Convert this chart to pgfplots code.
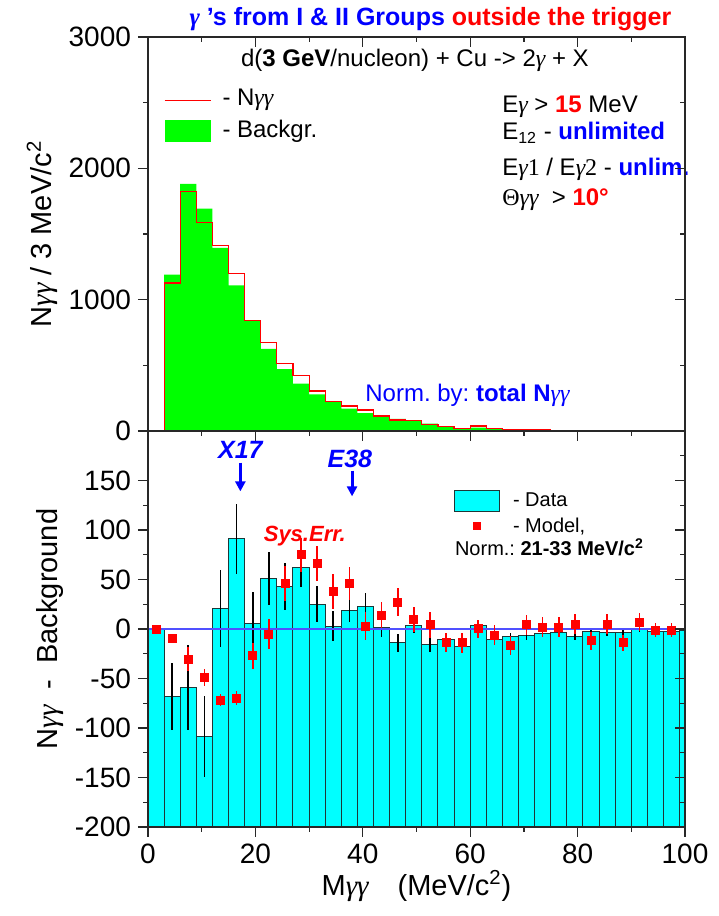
\documentclass[border=0pt]{standalone}
\usepackage{fontspec}
\setmainfont{Liberation Sans}
\newfontfamily\grk{Liberation Serif}
\usepackage{pgfplots}
\pgfplotsset{compat=1.18}
\usepackage{pgfplotstable}
\usetikzlibrary{arrows.meta}
\frenchspacing

\definecolor{hgreen}{RGB}{0,255,0}
\definecolor{hred}{RGB}{255,0,0}
\definecolor{hcyan}{RGB}{0,255,255}
\definecolor{hblue}{RGB}{0,0,255}
\definecolor{barline}{RGB}{30,55,55}
\definecolor{zline}{RGB}{80,80,255}
\definecolor{frame}{RGB}{40,40,40}

\newcommand{\gm}{{\grk\itshape γ}}
\newcommand{\fs}[1]{\fontsize{#1}{#1}\selectfont}

% upper panel: left edge of each 3 MeV/c^2 bin, N_gg and background
\pgfplotstableread{
lo   N     B
0    0     0
3    1127  1190
6    1823  1881
9    1587  1694
12   1413  1394
15   1200  1109
18   843   837
21   676   625
24   514   471
27   423   361
30   304   279
33   223   220
36   190   171
39   160   137
42   114   111
45   84    92
48   80    76
51   50    56
54   36    33
57   20    22
60   38    25
63   20    18
66   12    10
69   9     8
72   7     6
75   6     5
78   5     5
81   4     3
84   3     3
87   4     3
90   3     2
93   2     2
96   2     2
99   2     1
102  2     1
}\toptab

% lower panel: left bin edge, N_gg - background, statistical error
\pgfplotstableread{
lo   d     e
0    0     0
3    -68   34
6    -59   43
9    -109  41
12   21    39
15   91    35
18   6     31
21   51    27
24   43    24
27   62    20
30   25    18
33   3     15
36   19    12
39   23    13
42   2     10
45   -14   9
48   4     8
51   -16   7
54   -11   6
57   -18   6
60   4     5
63   -11   5
66   -8    4
69   -7    4
72   -5    3
75   -4    3
78   -8    3
81   -3    3
84   -4    3
87   -4    3
90   -1    2
93   -3    2
96   -3    2
99   -2    2
102  -2    0
}\difftab

% model: bin centre, value, systematic error
\pgfplotstableread{
c      m      e
1.5    0      0
4.5    -9     0
7.5    -30.5  12
10.5   -49    9
13.5   -72    6
16.5   -70    7
19.5   -27    13
22.5   -5     15
25.5   46     18
28.5   75     17
31.5   66     18
34.5   38     18
37.5   46     17
40.5   3      14
43.5   14     13
46.5   27     14
49.5   9.5    13
52.5   4.4    13
55.5   -13.6  10
58.5   -14    10
61.5   0.3    9
64.5   -6     10
67.5   -16.6  10
70.5   4.4    10
73.5   1.7    10
76.5   1.7    10
79.5   5      10
82.5   -12    9
85.5   5      10
88.5   -14    8
91.5   7      9
94.5   -1     7
97.5   -1     7
100.5  4      6
}\modtab

\tikzset{txt/.style={anchor=west, inner sep=0pt}}

\pgfplotsset{
  panel/.style={
    scale only axis, width=268.5pt,
    xmin=0, xmax=100,
    axis line style={frame, line width=0.8pt},
    every tick/.style={frame, line width=0.6pt},
    major tick length=5pt, minor tick length=2.5pt,
    tick label style={font=\fs{14}},
    clip mode=individual,
  },
  mirror/.style={
    panel, xtick pos=top, ytick pos=right, tick align=inside,
    xticklabels={}, yticklabels={},
  },
}

\begin{document}
\begin{tikzpicture}
\path[use as bounding box] (0,0) rectangle (359pt,458pt);

% ---------- upper panel ----------
\begin{axis}[panel, at={(74pt,242.5pt)}, anchor=south west, height=197pt,
  ymin=0, ymax=3000,
  xtick={0,20,...,100}, minor x tick num=1, xticklabels={},
  ytick={0,1000,2000,3000}, yticklabels={0,1000,2000,3000},
  minor y tick num=1,
  xtick pos=bottom, ytick pos=left, tick align=outside,
  every axis y label/.style={at={(axis description cs:-0.197,0.5)}, rotate=90,
    anchor=center, font=\fs{14.5}},
  ylabel={N\gm\gm\ / 3 MeV/c\textsuperscript{2}},
]
\addplot[ybar interval, fill=hgreen, draw=none] table[x=lo, y=B] \toptab;
\addplot[const plot, hred, line width=0.6pt] table[x=lo, y=N] \toptab;

\node[font=\fs{12.5}\bfseries] at (axis cs:52.6,3140)
  {\textcolor{hblue}{\gm\ 's from I \& II Groups} \textcolor{hred}{outside the trigger}};
\node[font=\fs{12}] at (axis cs:49.7,2825)
  {d(\textbf{3 GeV}/nucleon) + Cu -> 2\gm\ + X};

\draw[hred, line width=0.6pt] (axis cs:3.1,2518) -- (axis cs:11.7,2518);
\node[txt, font=\fs{12}] at (axis cs:13.8,2518) {- N\gm\gm};
\fill[hgreen] (axis cs:3.1,2202) rectangle (axis cs:11.7,2369);
\node[txt, font=\fs{12}] at (axis cs:13.8,2285) {- Backgr.};

\node[txt, font=\fs{12}] at (axis cs:65.9,2465)
  {E\gm\ > \textcolor{hred}{\textbf{15}} MeV};
\node[txt, font=\fs{12}] at (axis cs:65.9,2270)
  {E\textsubscript{12} - \textcolor{hblue}{\textbf{unlimited}}};
\node[txt, font=\fs{12}] at (axis cs:65.9,1990)
  {E\gm{\grk 1} / E\gm{\grk 2} - \textcolor{hblue}{\textbf{unlim.}}};
\node[txt, font=\fs{12}] at (axis cs:65.9,1760)
  {{\grk Θ}\gm\gm\ \ > \textcolor{hred}{\textbf{10°}}};

\node[txt, font=\fs{12}, text=hblue] at (axis cs:40.4,271)
  {Norm. by: \textbf{total N}\gm\gm};
\end{axis}
\begin{axis}[mirror, at={(74pt,242.5pt)}, anchor=south west, height=197pt,
  ymin=0, ymax=3000, xtick={0,20,...,100}, minor x tick num=1,
  ytick={0,1000,2000,3000}, minor y tick num=1]
\end{axis}

% ---------- lower panel ----------
\begin{axis}[panel, at={(74pt,44.5pt)}, anchor=south west, height=198pt,
  ymin=-200, ymax=200,
  y coord trafo/.code={\pgfmathparse{#1+200}},
  y coord inv trafo/.code={\pgfmathparse{#1-200}},
  xtick={0,20,...,100}, xticklabels={0,20,40,60,80,100}, minor x tick num=1,
  ytick={-200,-150,...,150}, yticklabels={-200,-150,-100,-50,0,50,100,150},
  minor y tick num=1,
  xtick pos=bottom, ytick pos=left, tick align=outside,
  every axis y label/.style={at={(axis description cs:-0.1825,0.5)}, rotate=90,
    anchor=center, font=\fs{14.5}},
  every axis x label/.style={at={(axis description cs:0.5,-0.149)},
    anchor=center, font=\fs{14.5}},
  ylabel={N\gm\gm\ \ -\ \ Background},
  xlabel={M\gm\gm\quad(MeV/c\textsuperscript{2})},
]
\addplot[ybar interval, fill=hcyan, draw=barline, line width=0.5pt] table[x=lo, y=d] \difftab;
\addplot[draw=none, mark=none, error bars/.cd, y dir=both, y explicit, error mark=none,
  error bar style={draw=black, line width=0.8pt}]
  table[x expr=\thisrow{lo}+1.5, y=d, y error=e] \difftab;
\addplot[zline, line width=0.6pt] coordinates {(0,0) (100,0)};
\addplot[only marks, mark=square*, mark size=2pt, color=hred,
  error bars/.cd, y dir=both, y explicit, error mark=none,
  error bar style={draw=hred, line width=0.8pt}]
  table[x=c, y=m, y error=e] \modtab;

\node[font=\fs{12.5}\bfseries\itshape, text=hblue] at (axis cs:17.2,181) {X17};
\draw[hblue, line width=1.5pt, -{Triangle[length=5pt,width=5pt]}]
  (axis cs:17.2,168) -- (axis cs:17.2,139);
\node[font=\fs{12.5}\bfseries\itshape, text=hblue] at (axis cs:37.6,172) {E38};
\draw[hblue, line width=1.5pt, -{Triangle[length=5pt,width=5pt]}]
  (axis cs:38,160) -- (axis cs:38,134);
\node[font=\fs{11}\bfseries\itshape, text=hred] at (axis cs:29.2,94) {Sys.Err.};

\filldraw[fill=hcyan, draw=barline, line width=0.5pt]
  (axis cs:57.1,118.3) rectangle (axis cs:65.5,139.6);
\node[txt, font=\fs{10}] at (axis cs:67.9,130.4) {- Data};
\node[fill=hred, inner sep=0pt, minimum size=4pt] at (axis cs:61.2,104) {};
\node[txt, font=\fs{10}] at (axis cs:67.9,104) {- Model,};
\node[txt, font=\fs{10}] at (axis cs:57.1,82.6)
  {Norm.: \textbf{21-33 MeV/c\textsuperscript{2}}};
\end{axis}
\begin{axis}[mirror, at={(74pt,44.5pt)}, anchor=south west, height=198pt,
  ymin=-200, ymax=200, xtick=\empty,
  ytick={-200,-150,...,200}, minor y tick num=1]
\end{axis}
\end{tikzpicture}
\end{document}
